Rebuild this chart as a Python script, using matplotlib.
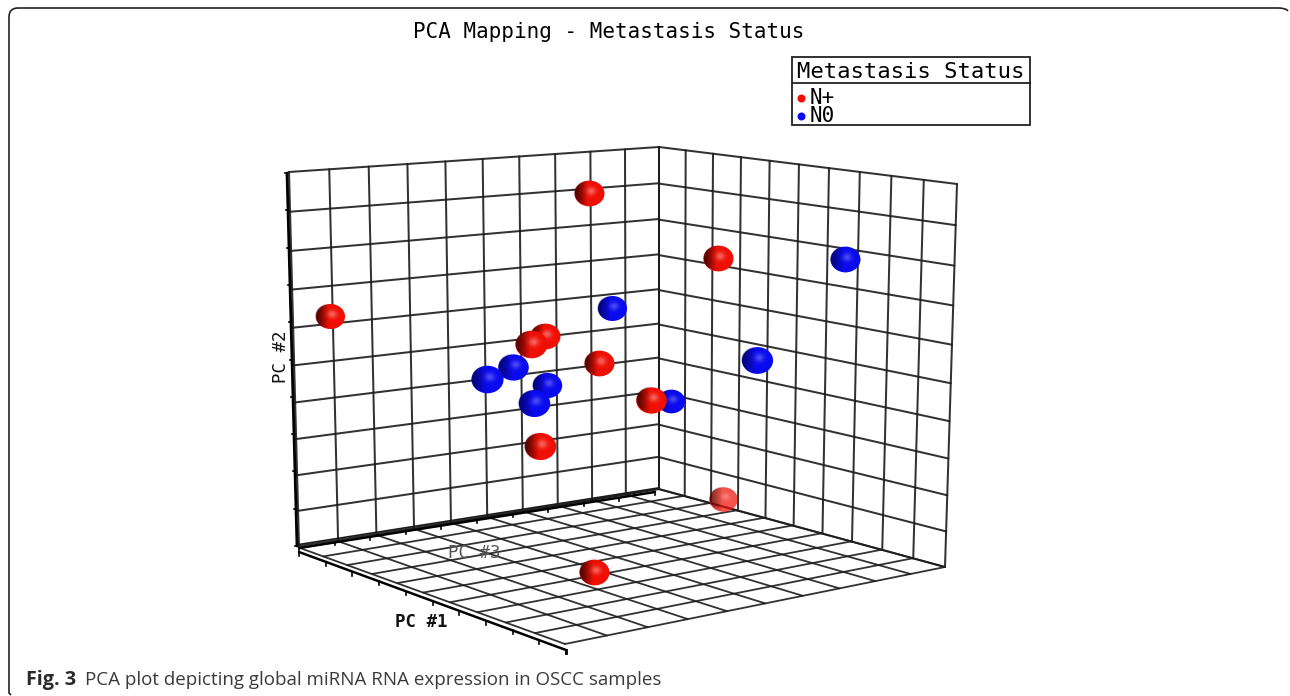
import numpy as np
import matplotlib
matplotlib.use("Agg")
import matplotlib.pyplot as plt
from matplotlib.path import Path
from matplotlib.patches import PathPatch, Rectangle
from matplotlib.markers import MarkerStyle
from matplotlib.transforms import Affine2D

# ---- data (screen position of every sample) ----
title = "PCA Mapping - Metastasis Status"
legend_title = "Metastasis Status"
groups = ["N+", "N0"]
axis_labels = ["PC #1", "PC #2", "PC #3"]
caption_bold = "Fig. 3"
caption_rest = "PCA plot depicting global miRNA RNA expression in OSCC samples"

n0_x = [671, 845, 612, 757, 513, 487, 547, 534]
n0_y = [401, 259, 308, 360, 367, 379, 385, 403]
n0_depth = [0.92, 1.0, 0.97, 1.04, 1.02, 1.07, 0.98, 1.05]

nplus_x = [589, 718, 330, 545, 531, 599, 651, 540, 594, 723]
nplus_y = [193, 258, 316, 336, 344, 363, 400, 446, 572, 499]
nplus_depth = [1.0, 1.0, 0.97, 1.0, 1.07, 1.0, 1.02, 1.05, 1.0, 0.95]
nplus_alpha = [1, 1, 1, 1, 1, 1, 1, 1, 1, 0.72]

grid_cells = 10

# ---- layout ----
W, H = 1290, 696
fig = plt.figure(figsize=(W / 100, H / 100), dpi=100, facecolor="white")
ax = fig.add_axes([0, 0, 1, 1])
ax.set_axis_off()
MONO = "DejaVu Sans Mono"
SANS = "Open Sans"
GRID = "#1c1c1c"
RED = "#f00f05"
BLUE = "#0a0af0"


def homography(quad):
    """Map the unit square onto a quad: (0,0),(1,0),(1,1),(0,1)."""
    src = [(0, 0), (1, 0), (1, 1), (0, 1)]
    A, b = [], []
    for (u, v), (x, y) in zip(src, quad):
        A.append([u, v, 1, 0, 0, 0, -u * x, -v * x])
        A.append([0, 0, 0, u, v, 1, -u * y, -v * y])
        b += [x, y]
    h = np.linalg.solve(np.array(A, float), np.array(b, float))
    M = np.append(h, 1).reshape(3, 3)

    def f(u, v):
        p = M @ np.array([u, v, 1.0])
        return p[0] / p[2], p[1] / p[2]
    return f


def draw_grid(quad, lw=1.45, bow=0.0):
    f = homography(quad)
    for i in range(grid_cells + 1):
        t = i / grid_cells
        s = t + bow * t * (1 - t)
        for a, b in ((f(t, 0), f(t, 1)), (f(0, s), f(1, s))):
            ax.plot([a[0], b[0]], [a[1], b[1]], color=GRID, lw=lw, alpha=0.9,
                    solid_capstyle="round", zorder=2)
    return f


left_wall = [(289, 172), (659, 147), (659, 489), (299, 546)]
right_wall = [(659, 147), (957, 184), (945, 567), (659, 489)]
floor = [(300, 548), (658, 489), (945, 567), (565, 644)]
draw_grid(left_wall, bow=0.04)
draw_grid(right_wall, bow=0.04)
draw_grid(floor, lw=1.3)


def axis_with_ticks(p0, p1, tick, lw, n=grid_cells):
    ax.plot([p0[0], p1[0]], [p0[1], p1[1]], color="black", lw=lw, zorder=3,
            solid_capstyle="round")
    for i in range(n + 1):
        t = i / n
        x, y = p0[0] + t * (p1[0] - p0[0]), p0[1] + t * (p1[1] - p0[1])
        ax.plot([x, x + tick[0]], [y, y + tick[1]], color="black", lw=1.2, zorder=3)


# PC #2 axis, PC #3 axis and PC #1 axis with their tick marks
axis_with_ticks((287, 173), (297, 546), (-2, 0), 2.0)
axis_with_ticks((299, 548), (655, 492), (0, 3), 1.8)
ax.plot([299, 658], [544.5, 488], color=GRID, lw=1.2, zorder=3)
axis_with_ticks((299, 552), (566, 650), (0, 4), 1.8)
ax.plot([566, 566], [650, 653], color="black", lw=2, zorder=3)


# ---- spheres ----
def sphere_overlay(n=64):
    v, u = np.mgrid[-1:1:n * 1j, -1:1:n * 1j]
    r = np.hypot(u, v)
    d = np.hypot(u - 0.15, v + 0.15)
    dark = np.clip((-u - 0.05) * 0.85, 0, 0.62)
    white = 0.36 * np.exp(-(d / 0.30) ** 2)
    a = white + dark - white * dark
    rgb = np.where(a > 0, white / np.maximum(a, 1e-6), 0.0)
    edge = np.clip((1 - r) * n / 3, 0, 1)
    return np.dstack([rgb, rgb, rgb, a * edge])


overlay = sphere_overlay()
RATIO = 0.86
ellipse = MarkerStyle(Path.unit_circle().transformed(Affine2D().scale(1.0, RATIO)))
BASE_W = 30.0


def spheres(xs, ys, depths, color, alphas=None, strength=1.0):
    z = 5.0
    for i, (x, y, d) in enumerate(zip(xs, ys, depths)):
        al = 1 if alphas is None else alphas[i]
        w = BASE_W * d
        rx, ry = w / 2, w / 2 * RATIO
        ax.scatter([x], [y], s=(w * 0.72) ** 2, marker=ellipse, color=color,
                   linewidths=0, alpha=al, zorder=z)
        ov = overlay.copy()
        ov[..., 3] *= al * strength
        ax.imshow(ov, extent=[x - rx, x + rx, y + ry, y - ry], aspect="auto",
                  interpolation="bilinear", zorder=z + 0.01)
        z += 0.1


spheres(n0_x, n0_y, n0_depth, BLUE, strength=0.75)
spheres(nplus_x, nplus_y, nplus_depth, RED, alphas=nplus_alpha)

ax.set_xlim(0, W)
ax.set_ylim(H, 0)

# ---- text ----
ax.text(609, 32, title, family=MONO, fontsize=15, ha="center", va="center", color="black")
ax.text(421, 622, axis_labels[0], family=MONO, fontsize=12.5, weight="bold", ha="center",
        va="center", color="#111111")
ax.text(281, 357, axis_labels[1], family=MONO, fontsize=12.5, rotation=90, ha="center",
        va="center", color="#111111")
ax.text(474, 553, axis_labels[2], family=MONO, fontsize=12.5, ha="center", va="center",
        color="#555555", zorder=4)

# ---- legend ----
ax.add_patch(Rectangle((792, 57), 238, 68, fc="white", ec="#222222", lw=1.3, zorder=6))
ax.plot([792, 1030], [83, 83], color="#222222", lw=1.3, zorder=7)
ax.text(911, 71.5, legend_title, family=MONO, fontsize=16, ha="center", va="center", zorder=7)
ax.scatter([801], [97.5], s=(8 * 0.72) ** 2, color=RED, linewidths=0, zorder=7)
ax.scatter([801], [115.5], s=(8 * 0.72) ** 2, color=BLUE, linewidths=0, zorder=7)
ax.text(810, 97.5, groups[0], family=MONO, fontsize=15, ha="left", va="center", zorder=7)
ax.text(810, 115.5, groups[1], family=MONO, fontsize=15, ha="left", va="center", zorder=7)

# ---- caption and frame ----
ax.text(26, 680, caption_bold, family=SANS, weight="bold", fontsize=14.2, ha="left",
        va="center", color="#2b2b2b")
ax.text(85, 680, caption_rest, family=SANS, fontsize=13.5, ha="left", va="center",
        color="#3a3a3a")

frame = Path(
    [(11, 695), (9, 693), (9, 17), (9, 8), (18, 8), (1278, 8), (1286, 8), (1288, 11)],
    [Path.MOVETO, Path.LINETO, Path.LINETO, Path.CURVE3, Path.CURVE3, Path.LINETO,
     Path.CURVE3, Path.CURVE3])
ax.add_patch(PathPatch(frame, fc="none", ec="#222222", lw=1.2, zorder=1))

fig.savefig("out.png", dpi=100, facecolor="white")
